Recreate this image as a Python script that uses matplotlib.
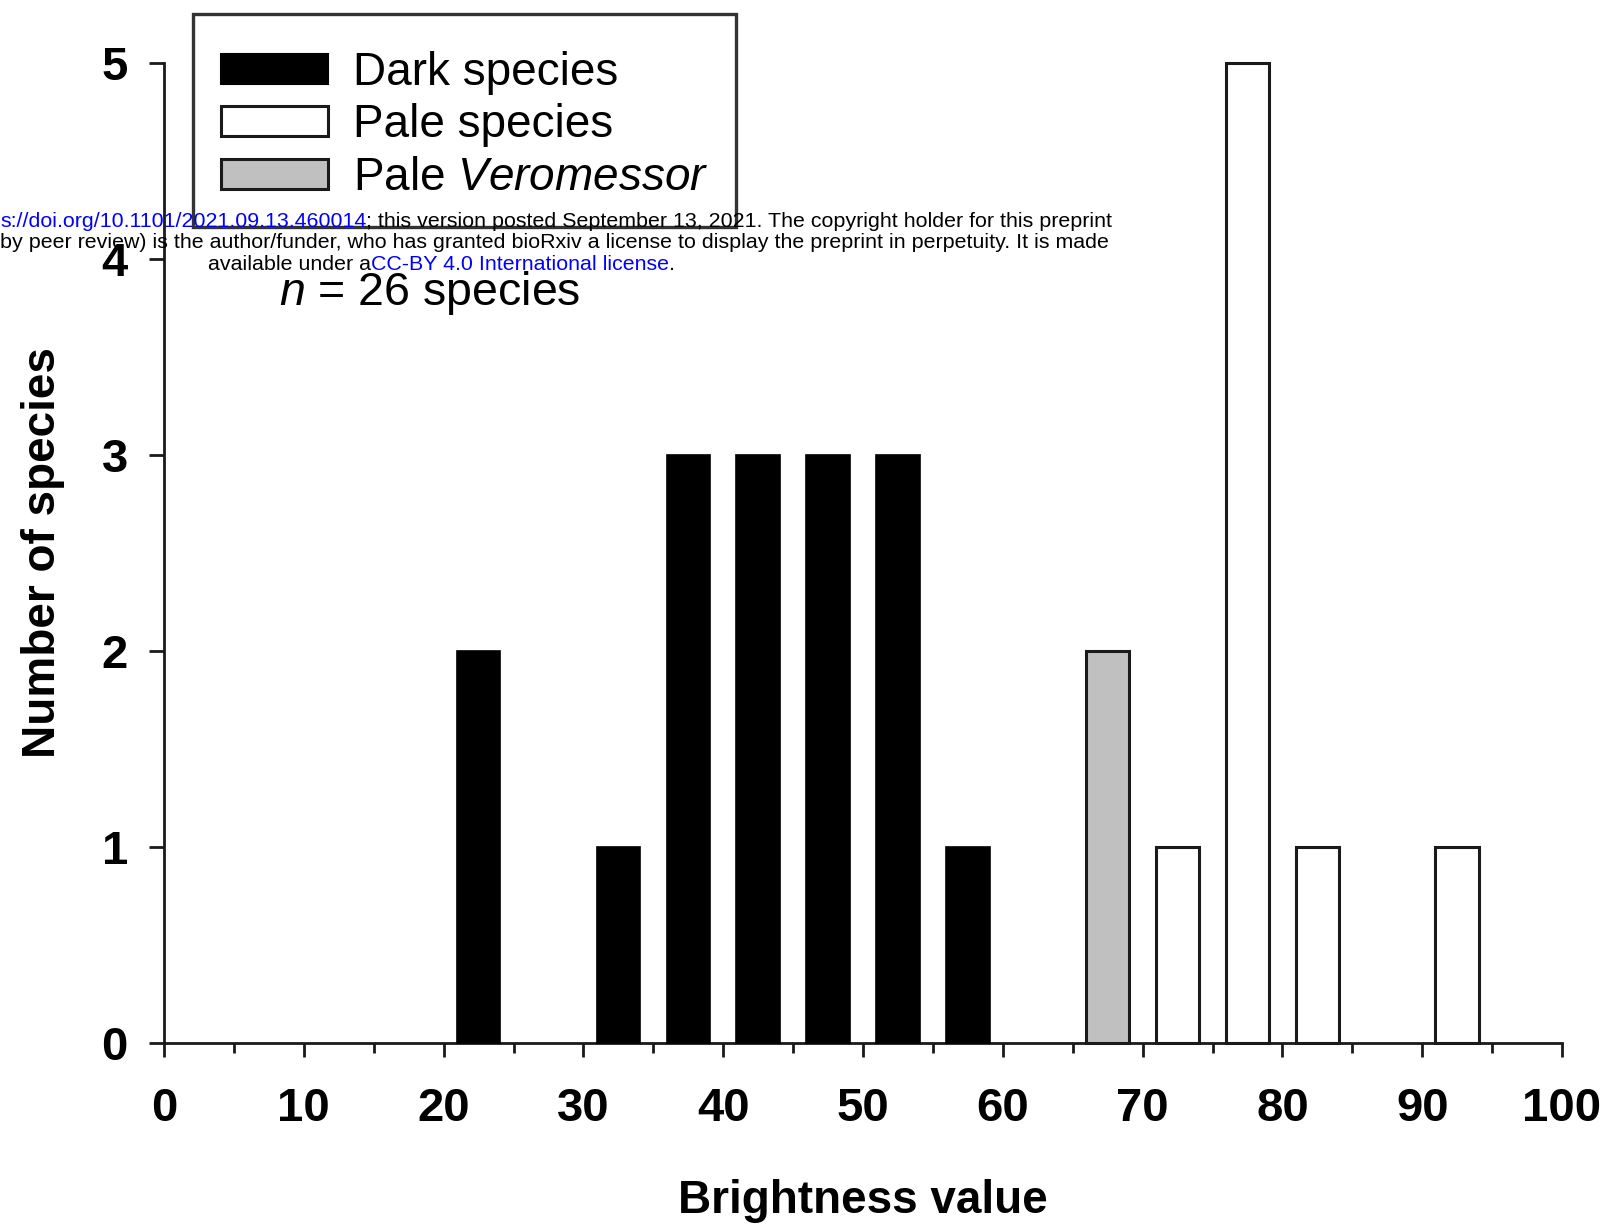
import matplotlib
matplotlib.use("Agg")
import matplotlib.pyplot as plt
from matplotlib.patches import Patch
from matplotlib.ticker import MultipleLocator

plt.rcParams["font.family"] = ["Liberation Sans", "DejaVu Sans"]
plt.rcParams["mathtext.fontset"] = "custom"
plt.rcParams["mathtext.rm"] = "Liberation Sans"
plt.rcParams["mathtext.it"] = "Liberation Sans:italic"

# Histogram of brightness values (bin centres, 5-unit bins) and species counts
dark_bins = [22.5, 32.5, 37.5, 42.5, 47.5, 52.5, 57.5]
dark_counts = [2, 1, 3, 3, 3, 3, 1]
veromessor_bins = [67.5]
veromessor_counts = [2]
pale_bins = [72.5, 77.5, 82.5, 92.5]
pale_counts = [1, 5, 1, 1]

x_ticks = [0, 10, 20, 30, 40, 50, 60, 70, 80, 90, 100]
y_ticks = [0, 1, 2, 3, 4, 5]
legend_labels = ["Dark species", "Pale species", r"Pale $\mathit{Veromessor}$"]
n_species = sum(dark_counts) + sum(veromessor_counts) + sum(pale_counts)

W, H = 1611, 1228
fig = plt.figure(figsize=(W / 100, H / 100), dpi=100)
ax = fig.add_axes([164 / W, 1 - 1043 / H, (1562 - 164) / W, (1043 - 63) / H])

bar_w = 3.1
ax.bar(dark_bins, dark_counts, width=bar_w, color="black", edgecolor="black",
       linewidth=1.2, clip_on=False, zorder=3)
ax.bar(veromessor_bins, veromessor_counts, width=bar_w, color="#c0c0c0",
       edgecolor="#1a1a1a", linewidth=2.2, clip_on=False, zorder=3)
ax.bar(pale_bins, pale_counts, width=bar_w, color="white", edgecolor="#1a1a1a",
       linewidth=2.2, clip_on=False, zorder=3)

ax.set_xlim(0, 100)
ax.set_ylim(0, 5)
ax.set_xticks(x_ticks)
ax.set_yticks(y_ticks)
ax.xaxis.set_minor_locator(MultipleLocator(5))
for s in ("top", "right"):
    ax.spines[s].set_visible(False)
for s in ("left", "bottom"):
    ax.spines[s].set_linewidth(2.0)
    ax.spines[s].set_color("#1a1a1a")

ax.tick_params(axis="x", which="major", direction="out", length=10, width=2.0,
               pad=22, labelsize=34, color="#1a1a1a")
ax.tick_params(axis="x", which="minor", direction="out", length=7, width=2.0,
               color="#1a1a1a")
ax.tick_params(axis="y", which="major", direction="out", length=11, width=2.0,
               pad=15, labelsize=34, color="#1a1a1a")
for lbl in ax.get_xticklabels() + ax.get_yticklabels():
    lbl.set_fontweight("bold")

ax.set_xlabel("Brightness value", fontsize=33, fontweight="bold")
ax.set_ylabel("Number of species", fontsize=33, fontweight="bold")
ax.xaxis.set_label_coords(0.5, -0.139)
ax.yaxis.set_label_coords(-0.071, 0.5)

handles = [
    Patch(facecolor="black", edgecolor="black", linewidth=1.5),
    Patch(facecolor="white", edgecolor="#1a1a1a", linewidth=2.2),
    Patch(facecolor="#c0c0c0", edgecolor="#1a1a1a", linewidth=2.2),
]
# a near-zero-size blank title gives a little extra room above the first row
leg = ax.legend(handles, legend_labels, loc="upper left",
                bbox_to_anchor=(193 / W, 1 - 14 / H), bbox_transform=fig.transFigure,
                borderaxespad=0, fontsize=33, frameon=True, fancybox=False,
                edgecolor="#333333", framealpha=1, handlelength=2.34,
                handleheight=0.63, handletextpad=0.55, labelspacing=0.185,
                borderpad=0.6, title=" ", title_fontsize=0.5)
leg.get_frame().set_linewidth(2.4)
leg.set_zorder(5)

fig.text(279 / W, 1 - 305 / H, rf"$\mathit{{n}}$ = {n_species} species",
         fontsize=33.5, ha="left", va="baseline")

# Preprint notice printed across the top of the page, above the legend
blue = "#0000ff"
note_size = 15.4


def chain(parts, x_px, y_px):
    prev = None
    for txt, col in parts:
        if prev is None:
            prev = fig.text(x_px / W, 1 - y_px / H, txt, color=col,
                            fontsize=note_size, ha="left", va="baseline", zorder=10)
        else:
            prev = ax.annotate(txt, xy=(1, 0), xycoords=prev, ha="left",
                               va="bottom", color=col, fontsize=note_size,
                               annotation_clip=False, zorder=10)


chain([("s://doi.org/10.1101/2021.09.13.460014", blue),
       ("; this version posted September 13, 2021. The copyright holder for this preprint", "black")],
      0, 227)
chain([("by peer review) is the author/funder, who has granted bioRxiv a license "
        "to display the preprint in perpetuity. It is made", "black")],
      0, 248)
chain([("available under a", "black"),
       ("CC-BY 4.0 International license", blue),
       (".", "black")],
      208, 270)

fig.savefig("out.png", dpi=100)
